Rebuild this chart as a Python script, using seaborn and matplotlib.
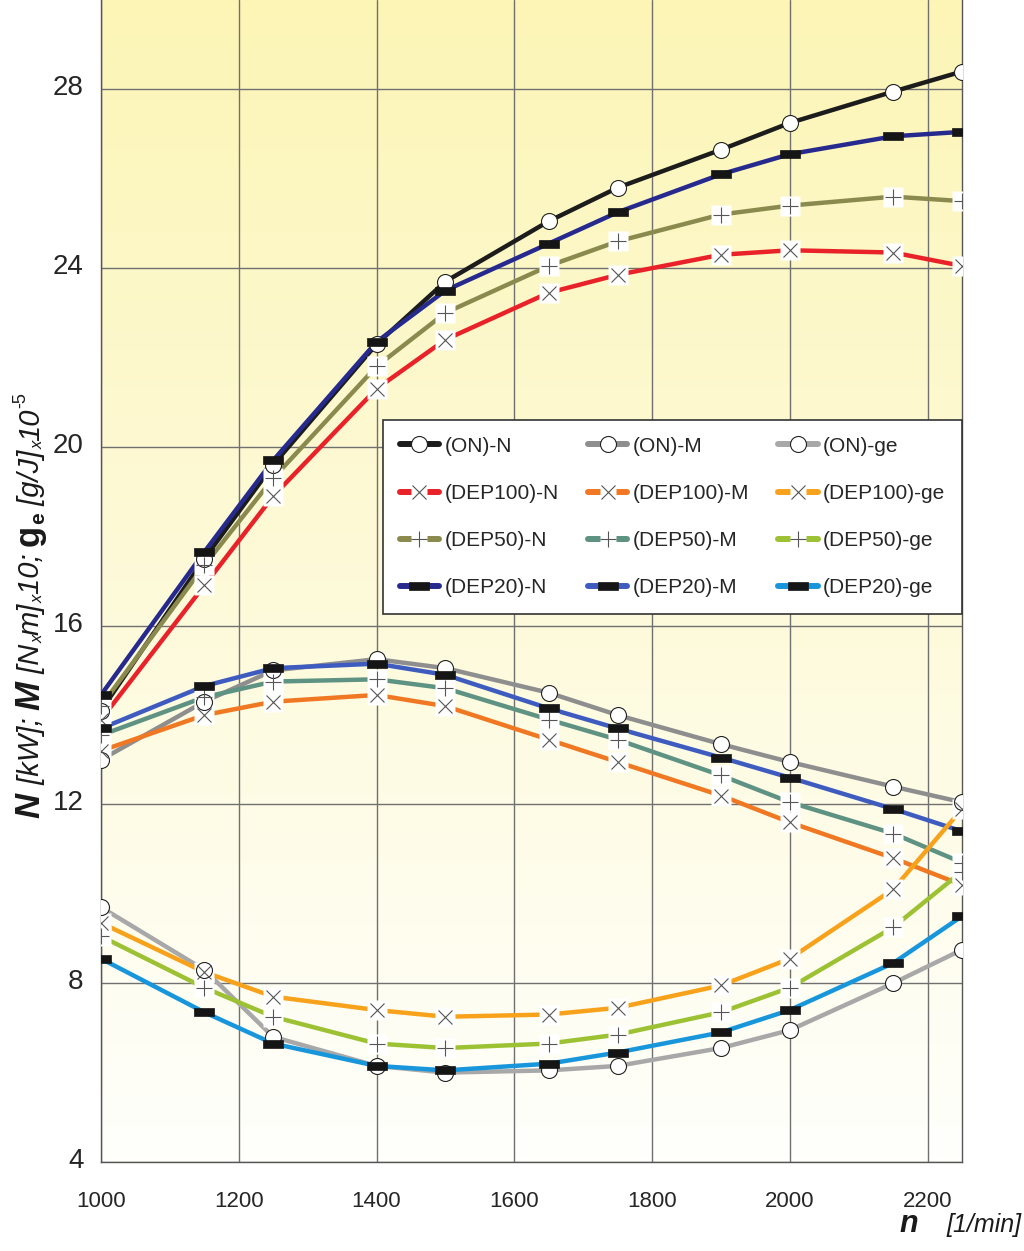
import numpy as np
import pandas as pd
import seaborn as sns
import matplotlib.pyplot as plt
from matplotlib.lines import Line2D
from matplotlib.legend_handler import HandlerTuple
from matplotlib.transforms import IdentityTransform, ScaledTranslation

# engine speed [1/min] where the markers sit
rpm = [1000, 1150, 1250, 1400, 1500, 1650, 1750, 1900, 2000, 2150, 2250]

# power N [kW]
on_n = [14.1, 17.5, 19.6, 22.3, 23.7, 25.05, 25.8, 26.65, 27.25, 27.95, 28.4]
dep100_n = [13.9, 16.9, 18.9, 21.3, 22.4, 23.45, 23.85, 24.3, 24.4, 24.35, 24.05]
dep50_n = [14.2, 17.35, 19.3, 21.8, 23.0, 24.05, 24.6, 25.2, 25.4, 25.6, 25.5]
dep20_n = [14.45, 17.65, 19.7, 22.35, 23.5, 24.55, 25.25, 26.1, 26.55, 26.95, 27.05]

# torque M [Nm] x 10
on_m = [13.0, 14.3, 15.0, 15.25, 15.05, 14.5, 14.0, 13.35, 12.95, 12.4, 12.05]
dep100_m = [13.2, 14.0, 14.3, 14.45, 14.2, 13.45, 12.95, 12.2, 11.6, 10.8, 10.2]
dep50_m = [13.55, 14.4, 14.75, 14.8, 14.6, 13.9, 13.45, 12.65, 12.05, 11.35, 10.7]
dep20_m = [13.7, 14.65, 15.05, 15.15, 14.9, 14.15, 13.7, 13.05, 12.6, 11.9, 11.4]

# specific fuel consumption ge [g/J] x 10^-5
on_ge = [9.7, 8.3, 6.8, 6.15, 6.0, 6.05, 6.15, 6.55, 6.95, 8.0, 8.75]
dep100_ge = [9.35, 8.25, 7.7, 7.4, 7.25, 7.3, 7.45, 7.95, 8.55, 10.1, 11.9]
dep50_ge = [9.05, 7.9, 7.25, 6.65, 6.55, 6.65, 6.85, 7.35, 7.9, 9.25, 10.5]
dep20_ge = [8.55, 7.35, 6.65, 6.15, 6.05, 6.2, 6.45, 6.9, 7.4, 8.45, 9.5]

series = {
    '(ON)-N': on_n, '(DEP100)-N': dep100_n, '(DEP50)-N': dep50_n, '(DEP20)-N': dep20_n,
    '(ON)-M': on_m, '(DEP100)-M': dep100_m, '(DEP50)-M': dep50_m, '(DEP20)-M': dep20_m,
    '(ON)-ge': on_ge, '(DEP100)-ge': dep100_ge, '(DEP50)-ge': dep50_ge, '(DEP20)-ge': dep20_ge,
}
colors = {
    '(ON)-N': '#1c1c1c', '(DEP100)-N': '#e82228', '(DEP50)-N': '#8a8a4e', '(DEP20)-N': '#262a8e',
    '(ON)-M': '#8e8e8e', '(DEP100)-M': '#f07822', '(DEP50)-M': '#5e9282', '(DEP20)-M': '#3e5cc0',
    '(ON)-ge': '#a8a8a8', '(DEP100)-ge': '#f8a21c', '(DEP50)-ge': '#9cc234', '(DEP20)-ge': '#1896dc',
}
fuels = {'ON': 'o', 'DEP100': 'x', 'DEP50': '+', 'DEP20': 'rect'}

rect = [(-1, -0.42), (1, -0.42), (1, 0.42), (-1, 0.42), (-1, -0.42)]

# y label pieces: text, size, weight, style, baseline shift (px)
ylabel_parts = [
    ('N', 25, 'bold', 'italic', 0),
    (' [kW]; ', 21, 'normal', 'italic', 0),
    ('M', 25, 'bold', 'italic', 0),
    (' [N', 21, 'normal', 'italic', 0),
    ('x', 12, 'normal', 'italic', 4),
    ('m]', 21, 'normal', 'italic', 0),
    ('x', 12, 'normal', 'italic', 4),
    ('10; ', 21, 'normal', 'italic', 0),
    ('g', 25, 'bold', 'normal', 0),
    ('e', 15, 'bold', 'normal', 5),
    (' [g/J]', 21, 'normal', 'italic', 0),
    ('x', 12, 'normal', 'italic', 4),
    ('10', 21, 'normal', 'italic', 0),
    ('-5', 13, 'normal', 'normal', -14),
]


def marker_style(fuel):
    if fuel == 'o':
        return dict(marker='o', ms=11.5, mfc='white', mec='#222222', mew=0.8)
    if fuel == 'x':
        return dict(marker='x', ms=10, mec='#555555', mew=0.8)
    if fuel == '+':
        return dict(marker='+', ms=11, mec='#555555', mew=0.8)
    return dict(marker=rect, ms=14, mfc='#151515', mec='#151515', mew=0.5)


def vertical_label(fig, parts, x_base, y_center):
    renderer = fig.canvas.get_renderer()
    texts = []
    for txt, size, weight, style, shift in parts:
        t = fig.text(0, 0, txt, transform=IdentityTransform(), rotation=90,
                     rotation_mode='anchor', ha='left', va='baseline',
                     fontsize=size, fontweight=weight, fontstyle=style, color='#1a1a1a')
        texts.append((t, t.get_window_extent(renderer).height, shift))
    total = sum(h for _, h, _ in texts)
    y = y_center - total / 2
    for t, h, shift in texts:
        t.set_position((x_base + shift, y))
        y += h


def main():
    df = pd.DataFrame([
        {'n': x, 'value': v, 'series': name}
        for name, vals in series.items() for x, v in zip(rpm, vals)
    ])

    sns.set_style('white')
    plt.rcParams['font.family'] = ['Liberation Sans', 'DejaVu Sans']

    fig = plt.figure(figsize=(10.24, 12.51), dpi=100)
    ax = fig.add_axes([101 / 1024, 1 - 1162 / 1251, 861 / 1024, 1162 / 1251])

    # yellow -> white background
    top = np.array([252, 245, 182]) / 255
    bottom = np.array([255, 255, 252]) / 255
    t = np.linspace(0, 1, 256)[:, None, None]
    grad = bottom + (top - bottom) * t
    ax.imshow(grad, extent=[1000, 2250, 4, 30], aspect='auto', origin='lower', zorder=0)

    sns.lineplot(data=df, x='n', y='value', hue='series', palette=colors,
                 linewidth=3.2, legend=False, sort=False, estimator=None, ax=ax, zorder=2)

    # white boxes under thin markers, then the markers
    for name, vals in series.items():
        fuel = fuels[name.split(')')[0][1:]]
        if fuel in ('x', '+'):
            ax.plot(rpm, vals, ls='none', marker='s', ms=15, mfc='white', mec='none', zorder=3)
    for name, vals in series.items():
        fuel = fuels[name.split(')')[0][1:]]
        ax.plot(rpm, vals, ls='none', zorder=4, **marker_style(fuel))

    ax.set_xlim(1000, 2250)
    ax.set_ylim(4, 30)
    ax.set_xticks(range(1000, 2201, 200))
    ax.set_yticks(range(4, 29, 4))
    ax.grid(True, color='#707070', linewidth=1)
    for gl in ax.get_xgridlines() + ax.get_ygridlines():
        gl.set_zorder(1)
    ax.set_xlabel('')
    ax.set_ylabel('')
    ax.tick_params(axis='y', direction='out', length=6.5, width=1, color='#444444',
                   labelsize=20, pad=6)
    ax.tick_params(axis='x', direction='out', length=4, width=1, color='#444444',
                   labelsize=16, pad=17)
    up = ScaledTranslation(0, 4 / 100, fig.dpi_scale_trans)
    for lab in ax.get_yticklabels():
        lab.set_transform(lab.get_transform() + up)
    for side in ['left', 'bottom', 'right']:
        ax.spines[side].set_color('#555555')
        ax.spines[side].set_linewidth(1)
    ax.spines['top'].set_visible(False)

    # legend: line with white gap + marker, drawn on top of each other
    handles = []
    for name in series:
        fuel = fuels[name.split(')')[0][1:]]
        base = Line2D([], [], color=colors[name], lw=4.3, marker='s', ms=12,
                      mfc='white' if fuel in ('x', '+') else 'none', mec='none')
        sym = Line2D([], [], ls='none', **marker_style(fuel))
        handles.append((base, sym))
    leg = ax.legend(handles, list(series), handler_map={tuple: HandlerTuple(ndivide=1)},
                    ncol=3, loc='upper right', bbox_to_anchor=(1.0, (1162 - 420) / 1162),
                    fontsize=15, frameon=True, fancybox=False, framealpha=1,
                    edgecolor='#333333', handlelength=1.9, handletextpad=0.25,
                    columnspacing=1.4, labelspacing=1.35, borderpad=0.8, borderaxespad=0)
    leg.get_frame().set_linewidth(1.2)
    leg.set_zorder(6)

    vertical_label(fig, ylabel_parts, 39, 1251 - 605)
    fig.text(918 / 1024, 1 - 1232 / 1251, 'n', fontweight='bold', fontstyle='italic',
             ha='right', va='baseline', fontsize=22, color='#1a1a1a')
    fig.text(1022 / 1024, 1 - 1232 / 1251, '[1/min]', fontstyle='italic',
             ha='right', va='baseline', fontsize=18, color='#1a1a1a')

    fig.savefig('out.png', dpi=100, facecolor='white')


if __name__ == '__main__':
    main()
